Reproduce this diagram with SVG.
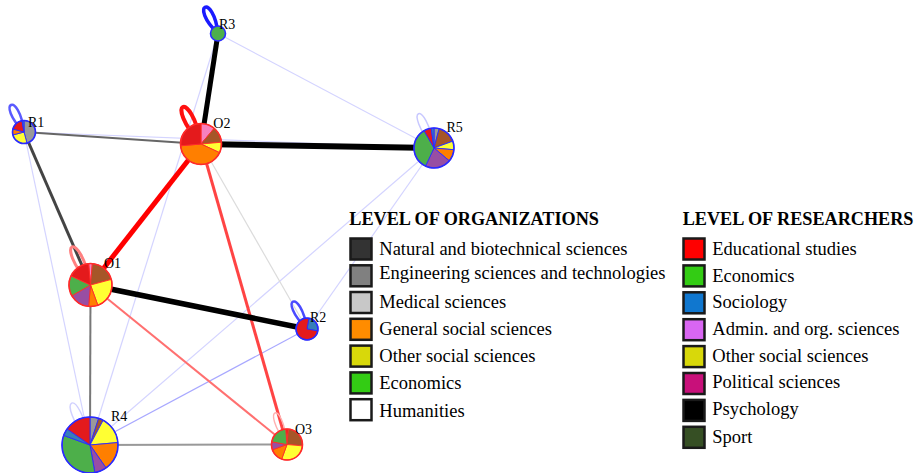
<svg xmlns="http://www.w3.org/2000/svg" width="921" height="473" viewBox="0 0 921 473">
  <style>
    .lbl { font-family: "Liberation Serif", "Times New Roman", serif; font-size: 14px; fill: #000; }
    .ttl { font-family: "Liberation Serif", "Times New Roman", serif; font-weight: bold; font-size: 18.2px; fill: #000; }
    .leg { font-family: "Liberation Serif", "Times New Roman", serif; font-size: 18.5px; fill: #000; }
    .sw { stroke: #1a1a1a; stroke-width: 2.5; }
    .edge { fill: none; stroke-linecap: butt; }
    .loop { fill: none; }
    .rn path { stroke: #2a2aff; stroke-width: 0.9; }
    .on path { stroke: #ff2a2a; stroke-width: 0.9; }
    .rn .rim { fill: none; stroke: #2a2aff; stroke-width: 1.6; }
    .on .rim { fill: none; stroke: #ff2a2a; stroke-width: 1.6; }
    .c-red { fill: #e41a1c; } .c-blue { fill: #377eb8; } .c-green { fill: #4daf4a; }
    .c-purple { fill: #984ea3; } .c-orange { fill: #ff7f00; } .c-yellow { fill: #ffff33; }
    .c-brown { fill: #a65628; } .c-pink { fill: #f781bf; } .c-gray { fill: #999999; }
  </style>

  <rect width="921" height="473" fill="#ffffff"/>

  <!-- connectors -->
  <g id="edges" class="edge">
    <!-- weak ties -->
    <line x1="218" y1="33.5" x2="434" y2="148" stroke="#d4d4ff" stroke-width="1.2"/>
    <line x1="218" y1="33.5" x2="90" y2="445" stroke="#d4d4ff" stroke-width="1.2"/>
    <line x1="434" y1="148" x2="90" y2="445" stroke="#d4d4ff" stroke-width="1.2"/>
    <line x1="434" y1="148" x2="307" y2="329" stroke="#d4d4ff" stroke-width="1.2"/>
    <line x1="24" y1="132" x2="90" y2="445" stroke="#d4d4ff" stroke-width="1.2"/>
    <line x1="24" y1="132" x2="434" y2="148" stroke="#d4d4ff" stroke-width="1.2"/>
    <line x1="201" y1="144" x2="307" y2="329" stroke="#dcdcdc" stroke-width="1.2"/>
    <line x1="307" y1="329" x2="90" y2="445" stroke="#a8a8ff" stroke-width="1.2"/>
    <!-- stronger ties -->
    <line x1="24" y1="132" x2="201" y2="144" stroke="#666666" stroke-width="2"/>
    <line x1="24" y1="132" x2="90.5" y2="285" stroke="#444444" stroke-width="3"/>
    <line x1="90.5" y1="285" x2="90" y2="445" stroke="#777777" stroke-width="2"/>
    <line x1="90" y1="445" x2="287" y2="444.5" stroke="#999999" stroke-width="2"/>
    <line x1="90.5" y1="285" x2="287" y2="444.5" stroke="#ff7070" stroke-width="2"/>
    <line x1="201" y1="144" x2="287" y2="444.5" stroke="#ff4444" stroke-width="3"/>
    <line x1="201" y1="144" x2="90.5" y2="285" stroke="#ff0000" stroke-width="5"/>
    <line x1="218" y1="33.5" x2="201" y2="144" stroke="#000000" stroke-width="5"/>
    <line x1="201" y1="144" x2="434" y2="148" stroke="#000000" stroke-width="6"/>
    <line x1="90.5" y1="285" x2="307" y2="329" stroke="#000000" stroke-width="5.5"/>
    <!-- self ties -->
    <path class="loop" d="M218,33.5 C213.2,-7.8 188.2,4.8 218,33.5" stroke="#1a1aff" stroke-width="3.5"/>
    <path class="loop" d="M24,132 C19.3,89.9 -5.9,102.1 24,132" stroke="#5a5aff" stroke-width="2.5"/>
    <path class="loop" d="M201,144 C191.2,87.7 162.4,101.7 201,144" stroke="#ff1010" stroke-width="4"/>
    <path class="loop" d="M434,148 C426.1,96.6 400.5,108.2 434,148" stroke="#c8c8ff" stroke-width="1.5"/>
    <path class="loop" d="M90.5,285 C80.4,227.3 51.4,241.3 90.5,285" stroke="#ff8080" stroke-width="3"/>
    <path class="loop" d="M307,329 C300.7,286.2 275.9,299 307,329" stroke="#4a4aff" stroke-width="2.5"/>
    <path class="loop" d="M90,445 C80.3,382.7 50.9,395.5 90,445" stroke="#d0d0ff" stroke-width="1.5"/>
    <path class="loop" d="M287,444.5 C283.2,397.8 258.8,407 287,444.5" stroke="#ffb0b0" stroke-width="1.5"/>
  </g>

  <!-- nodes -->
  <g id="R3" class="rn">
    <circle cx="218" cy="33.5" r="7.5" class="c-green"/>
    <circle cx="218" cy="33.5" r="7.5" class="rim"/>
    <text class="lbl" x="219" y="28.5">R3</text>
  </g>

  <g id="R1" class="rn">
    <path class="c-gray" d="M24,132 L24,120.5 A11.5,11.5 0 0 1 26.98,143.11 Z"/>
    <path class="c-yellow" d="M24,132 L26.98,143.11 A11.5,11.5 0 0 1 12.89,134.98 Z"/>
    <path class="c-orange" d="M24,132 L12.89,134.98 A11.5,11.5 0 0 1 12.89,129.02 Z"/>
    <path class="c-red" d="M24,132 L12.89,129.02 A11.5,11.5 0 0 1 22,120.67 Z"/>
    <path class="c-blue" d="M24,132 L22,120.67 A11.5,11.5 0 0 1 24,120.5 Z"/>
    <circle cx="24" cy="132" r="11.5" class="rim"/>
    <text class="lbl" x="28" y="126.7">R1</text>
  </g>

  <g id="O2" class="on">
    <path class="c-pink" d="M201,144 L201,123.5 A20.5,20.5 0 0 1 214.18,128.3 Z"/>
    <path class="c-brown" d="M201,144 L214.18,128.3 A20.5,20.5 0 0 1 221.42,142.21 Z"/>
    <path class="c-yellow" d="M201,144 L221.42,142.21 A20.5,20.5 0 0 1 219.58,152.66 Z"/>
    <path class="c-orange" d="M201,144 L219.58,152.66 A20.5,20.5 0 0 1 180.58,145.79 Z"/>
    <path class="c-red" d="M201,144 L180.58,145.79 A20.5,20.5 0 0 1 201,123.5 Z"/>
    <circle cx="201" cy="144" r="20.5" class="rim"/>
    <text class="lbl" x="213.3" y="127.7">O2</text>
  </g>

  <g id="R5" class="rn">
    <path class="c-gray" d="M434,148 L434,128 A20,20 0 0 1 439.18,128.68 Z"/>
    <path class="c-brown" d="M434,148 L439.18,128.68 A20,20 0 0 1 452.79,141.16 Z"/>
    <path class="c-yellow" d="M434,148 L452.79,141.16 A20,20 0 0 1 453.92,149.74 Z"/>
    <path class="c-orange" d="M434,148 L453.92,149.74 A20,20 0 0 1 449.32,160.86 Z"/>
    <path class="c-purple" d="M434,148 L449.32,160.86 A20,20 0 0 1 425.55,166.13 Z"/>
    <path class="c-green" d="M434,148 L425.55,166.13 A20,20 0 0 1 424,130.68 Z"/>
    <path class="c-red" d="M434,148 L424,130.68 A20,20 0 0 1 431.22,128.19 Z"/>
    <path class="c-blue" d="M434,148 L431.22,128.19 A20,20 0 0 1 434,128 Z"/>
    <circle cx="434" cy="148" r="20" class="rim"/>
    <text class="lbl" x="446.5" y="132">R5</text>
  </g>

  <g id="O1" class="on">
    <path class="c-pink" d="M90.5,285 L88.63,263.58 A21.5,21.5 0 0 1 92.37,263.58 Z"/>
    <path class="c-brown" d="M90.5,285 L92.37,263.58 A21.5,21.5 0 0 1 111.27,279.44 Z"/>
    <path class="c-yellow" d="M90.5,285 L111.27,279.44 A21.5,21.5 0 0 1 97.85,305.2 Z"/>
    <path class="c-orange" d="M90.5,285 L97.85,305.2 A21.5,21.5 0 0 1 88.63,306.42 Z"/>
    <path class="c-purple" d="M90.5,285 L88.63,306.42 A21.5,21.5 0 0 1 71.88,295.75 Z"/>
    <path class="c-green" d="M90.5,285 L71.88,295.75 A21.5,21.5 0 0 1 71.01,275.91 Z"/>
    <path class="c-red" d="M90.5,285 L71.01,275.91 A21.5,21.5 0 0 1 88.63,263.58 Z"/>
    <circle cx="90.5" cy="285" r="21.5" class="rim"/>
    <text class="lbl" x="104" y="268.3">O1</text>
  </g>

  <g id="R2" class="rn">
    <path class="c-blue" d="M307,329 L308.91,318.17 A11,11 0 0 1 317.83,330.91 Z"/>
    <path class="c-red" d="M307,329 L317.83,330.91 A11,11 0 1 1 308.91,318.17 Z"/>
    <circle cx="307" cy="329" r="11" class="rim"/>
    <text class="lbl" x="310" y="322.3">R2</text>
  </g>

  <g id="R4" class="rn">
    <path class="c-gray" d="M90,445 L90,417 A28,28 0 0 1 98.65,418.37 Z"/>
    <path class="c-brown" d="M90,445 L98.65,418.37 A28,28 0 0 1 103.15,420.28 Z"/>
    <path class="c-yellow" d="M90,445 L103.15,420.28 A28,28 0 0 1 117.89,442.56 Z"/>
    <path class="c-orange" d="M90,445 L117.89,442.56 A28,28 0 0 1 106.06,467.94 Z"/>
    <path class="c-purple" d="M90,445 L106.06,467.94 A28,28 0 0 1 94.86,472.57 Z"/>
    <path class="c-green" d="M90,445 L94.86,472.57 A28,28 0 0 1 63.69,435.42 Z"/>
    <path class="c-blue" d="M90,445 L63.69,435.42 A28,28 0 0 1 67.06,428.94 Z"/>
    <path class="c-red" d="M90,445 L67.06,428.94 A28,28 0 0 1 90,417 Z"/>
    <circle cx="90" cy="445" r="28" class="rim"/>
    <text class="lbl" x="111" y="421">R4</text>
  </g>

  <g id="O3" class="on">
    <path class="c-red" d="M287,444.5 L285.65,429.06 A15.5,15.5 0 0 1 288.35,429.06 Z"/>
    <path class="c-brown" d="M287,444.5 L288.35,429.06 A15.5,15.5 0 0 1 302.44,445.85 Z"/>
    <path class="c-yellow" d="M287,444.5 L302.44,445.85 A15.5,15.5 0 0 1 281.7,459.07 Z"/>
    <path class="c-orange" d="M287,444.5 L281.7,459.07 A15.5,15.5 0 0 1 272.43,449.8 Z"/>
    <path class="c-purple" d="M287,444.5 L272.43,449.8 A15.5,15.5 0 0 1 271.74,441.81 Z"/>
    <path class="c-green" d="M287,444.5 L271.74,441.81 A15.5,15.5 0 0 1 285.65,429.06 Z"/>
    <circle cx="287" cy="444.5" r="15.5" class="rim"/>
    <text class="lbl" x="295" y="434">O3</text>
  </g>

  <!-- legend: organizations -->
  <g id="legend-organizations">
    <text class="ttl" x="349.3" y="225">LEVEL OF ORGANIZATIONS</text>
    <rect class="sw" x="350.5" y="238.5" width="21" height="21" fill="#333333"/>
    <rect class="sw" x="350.5" y="265.3" width="21" height="21" fill="#808080"/>
    <rect class="sw" x="350.5" y="292" width="21" height="21" fill="#c8c8c8"/>
    <rect class="sw" x="350.5" y="318.8" width="21" height="21" fill="#ff8c00"/>
    <rect class="sw" x="350.5" y="345.6" width="21" height="21" fill="#d8d80a"/>
    <rect class="sw" x="350.5" y="372.4" width="21" height="21" fill="#33cc14"/>
    <rect class="sw" x="350.5" y="399.2" width="21" height="21" fill="#ffffff"/>
    <text class="leg" x="379.3" y="255">Natural and biotechnical sciences</text>
    <text class="leg" x="379.3" y="278.5">Engineering sciences and technologies</text>
    <text class="leg" x="379.3" y="307.5">Medical sciences</text>
    <text class="leg" x="379.3" y="335">General social sciences</text>
    <text class="leg" x="379.3" y="361.7">Other social sciences</text>
    <text class="leg" x="379.3" y="389.3">Economics</text>
    <text class="leg" x="379.3" y="416.5">Humanities</text>
  </g>

  <!-- legend: researchers -->
  <g id="legend-researchers">
    <text class="ttl" x="682.7" y="225">LEVEL OF RESEARCHERS</text>
    <rect class="sw" x="683.5" y="238.5" width="21" height="21" fill="#ff0000"/>
    <rect class="sw" x="683.5" y="265.4" width="21" height="21" fill="#33cc14"/>
    <rect class="sw" x="683.5" y="292.3" width="21" height="21" fill="#1077cf"/>
    <rect class="sw" x="683.5" y="319.2" width="21" height="21" fill="#d966f2"/>
    <rect class="sw" x="683.5" y="346.1" width="21" height="21" fill="#d8d80a"/>
    <rect class="sw" x="683.5" y="373" width="21" height="21" fill="#c8107a"/>
    <rect class="sw" x="683.5" y="399.9" width="21" height="21" fill="#000000"/>
    <rect class="sw" x="683.5" y="426.8" width="21" height="21" fill="#364f24"/>
    <text class="leg" x="712.3" y="255">Educational studies</text>
    <text class="leg" x="712.3" y="281.7">Economics</text>
    <text class="leg" x="712.3" y="308.3">Sociology</text>
    <text class="leg" x="712.3" y="335">Admin. and org. sciences</text>
    <text class="leg" x="712.3" y="361.7">Other social sciences</text>
    <text class="leg" x="712.3" y="388.3">Political sciences</text>
    <text class="leg" x="712.3" y="415">Psychology</text>
    <text class="leg" x="712.3" y="442.7">Sport</text>
  </g>
</svg>
